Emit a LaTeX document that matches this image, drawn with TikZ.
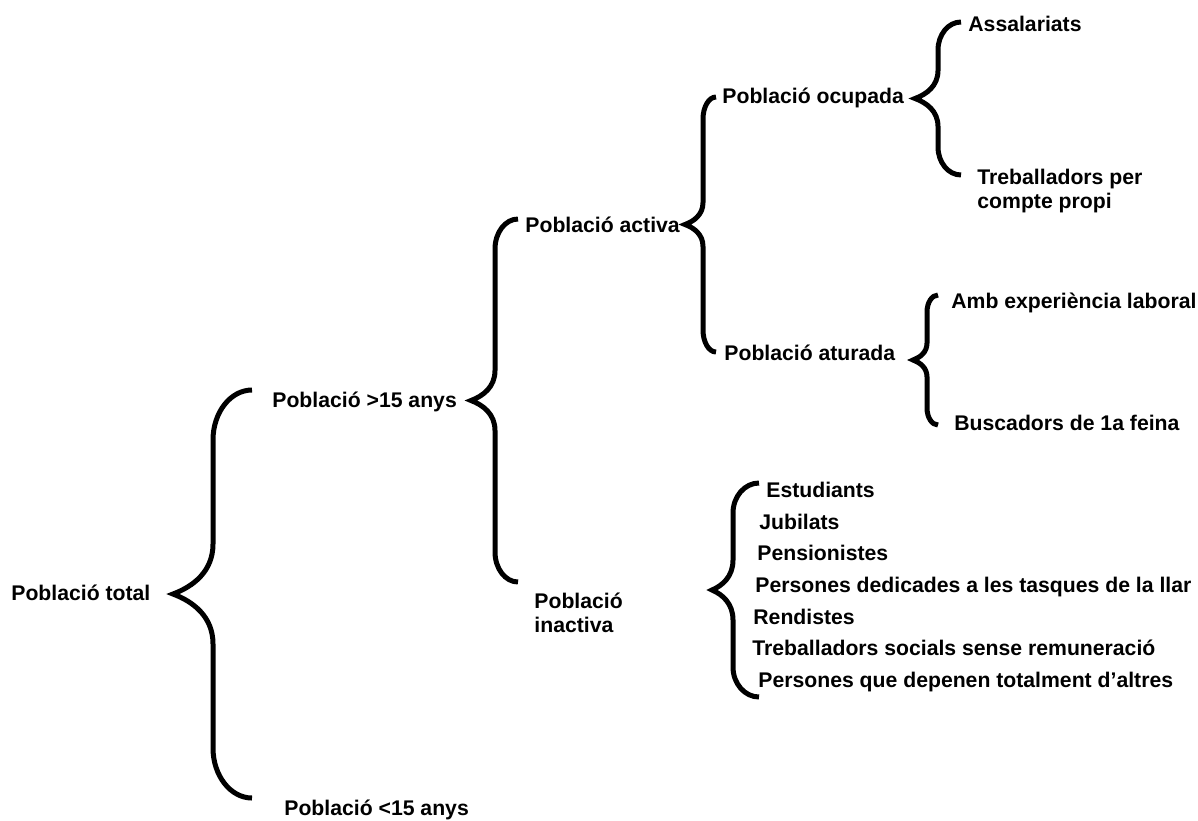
\documentclass[tikz,border=0pt]{standalone}
\usepackage{fontspec}
\setmainfont{Liberation Sans}

% clau: x extrem, y dalt, y baix, x vertical, x punta, corba
\newcommand{\clau}[6]{%
  \pgfmathsetmacro{\clym}{(#2+#3)/2}%
  \pgfmathsetmacro{\clea}{#1-0.552*(#1-#4)}%
  \pgfmathsetmacro{\clta}{#5+0.5*(#4-#5)}%
  \pgfmathsetmacro{\clcc}{0.448*#6}%
  \pgfmathsetmacro{\clpp}{0.15*#6}%
  \draw[clau] (#1,#2) .. controls (\clea,#2) and (#4,#2+\clcc) .. (#4,#2+#6)
    -- (#4,\clym-#6) .. controls (#4,\clym-\clcc) and (\clta,\clym-\clpp) .. (#5,\clym)
    .. controls (\clta,\clym+\clpp) and (#4,\clym+\clcc) .. (#4,\clym+#6)
    -- (#4,#3-#6) .. controls (#4,#3-\clcc) and (\clea,#3) .. (#1,#3);}

\begin{document}
\begin{tikzpicture}[x=0.5pt, y=-0.5pt,
    clau/.style={line width=2.5pt},
    txt/.style={anchor=base west, inner sep=0pt, align=left,
      font=\fontsize{10.6}{11.8}\selectfont\bfseries}]
    \useasboundingbox (0,0) rectangle (1198,820);

    \node [txt] (tot) at (11,600) {Població total};
    \node [txt] (mes15) at (272,407) {Població >15 anys};
    \node [txt] (menys15) at (284,815) {Població <15 anys};
    \node [txt] (activa) at (525,232) {Població activa};
    \node [txt] (inactiva) at (534,632) {Població\\inactiva};
    \node [txt] (ocupada) at (722,103) {Població ocupada};
    \node [txt] (aturada) at (724,360) {Població aturada};
    \node [txt] (assal) at (968,31) {Assalariats};
    \node [txt] (propi) at (977,208) {Treballadors per\\compte propi};
    \node [txt] (exper) at (951,308) {Amb experiència laboral};
    \node [txt] (busc) at (954,430) {Buscadors de 1a feina};

    \node [txt] (estud) at (766,497) {Estudiants};
    \node [txt] (jubil) at (759,529) {Jubilats};
    \node [txt] (pensi) at (757,560) {Pensionistes};
    \node [txt] (llar) at (755,592) {Persones dedicades a les tasques de la llar};
    \node [txt] (rend) at (753,624) {Rendistes};
    \node [txt] (socials) at (752,655) {Treballadors socials sense remuneració};
    \node [txt] (depen) at (758,687) {Persones que depenen totalment d’altres};

    \clau{252}{390}{798}{213}{173}{50}
    \clau{518}{219}{582}{495}{471}{30}
    \clau{716}{97}{352}{703}{685}{22}
    \clau{961}{22}{175}{938}{915}{28}
    \clau{938}{295}{425}{927}{913}{17}
    \clau{759}{483}{697}{733}{712}{30}
\end{tikzpicture}
\end{document}
